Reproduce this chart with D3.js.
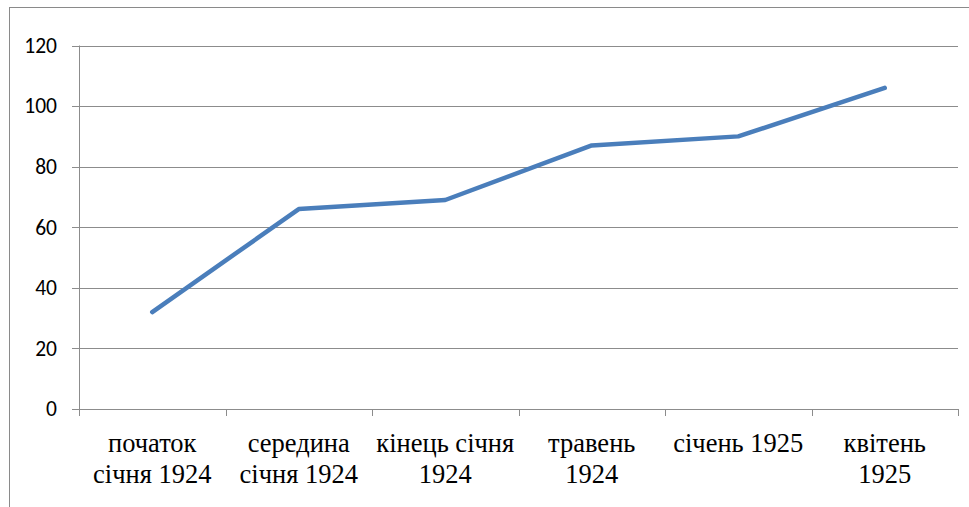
<!DOCTYPE html>
<html>
<head>
<meta charset="utf-8">
<script src="https://cdn.jsdelivr.net/npm/d3@7"></script>
<style>
  body { margin: 0; background: #fff; }
  svg { display: block; }
</style>
</head>
<body>
<div id="chart"></div>
<script>
// categories (line breaks as in the original chart)
var categories = [
  ["початок", "січня 1924"],
  ["середина", "січня 1924"],
  ["кінець січня", "1924"],
  ["травень", "1924"],
  ["січень 1925"],
  ["квітень", "1925"]
];
var values = [32, 66, 69, 87, 90, 106];
var yTicks = [0, 20, 40, 60, 80, 100, 120];

var W = 969, H = 507;
var margin = {left: 79, right: 11, top: 45.5, bottom: 98};

var svg = d3.select("#chart").append("svg")
  .attr("width", W).attr("height", H);

// outer chart frame (cut off at right/bottom in the original)
svg.append("rect")
  .attr("x", 9.5).attr("y", 7.5)
  .attr("width", W + 20).attr("height", H + 20)
  .attr("fill", "none")
  .attr("stroke", "#8a8a8a")
  .attr("stroke-width", 1);

var x = d3.scaleBand()
  .domain(d3.range(categories.length))
  .range([margin.left, W - margin.right]);

var y = d3.scaleLinear()
  .domain([0, 120])
  .range([H - margin.bottom, margin.top]);

// gridlines + y axis
var yAxis = d3.axisLeft(y)
  .tickValues(yTicks)
  .tickSize(-(W - margin.right - margin.left))
  .tickSizeOuter(0)
  .tickPadding(22)
  .tickFormat(d3.format("d"));

var gy = svg.append("g")
  .attr("transform", "translate(" + margin.left + ",0)")
  .call(yAxis);
gy.select(".domain").remove();
gy.selectAll(".tick line")
  .attr("x1", -7)
  .attr("stroke", "#8c8c8c")
  .attr("shape-rendering", "crispEdges");
gy.selectAll(".tick text")
  .style("font-family", "Carlito, Lato, sans-serif")
  .style("font-size", "21.5px")
  .attr("fill", "#000");

// y axis line
svg.append("line")
  .attr("x1", margin.left + 0.5).attr("x2", margin.left + 0.5)
  .attr("y1", y(120)).attr("y2", y(0))
  .attr("stroke", "#8c8c8c");

// x axis line + ticks at band boundaries
svg.append("line")
  .attr("x1", margin.left).attr("x2", W - margin.right)
  .attr("y1", Math.round(y(0)) + 0.5).attr("y2", Math.round(y(0)) + 0.5)
  .attr("stroke", "#8c8c8c");

var bounds = d3.range(categories.length + 1).map(function(i) {
  return i < categories.length ? x(i) : x(i - 1) + x.bandwidth();
});
svg.selectAll(".xtick").data(bounds)
  .enter().append("line")
    .attr("class", "xtick")
    .attr("x1", function(d) { return Math.round(d) + 0.5; })
    .attr("x2", function(d) { return Math.round(d) + 0.5; })
    .attr("y1", y(0))
    .attr("y2", y(0) + 7)
    .attr("stroke", "#8c8c8c");

// category labels
var lbl = svg.selectAll(".xlabel").data(categories)
  .enter().append("text")
    .attr("class", "xlabel")
    .attr("text-anchor", "middle")
    .style("font-family", "'Liberation Serif', 'Times New Roman', serif")
    .style("font-size", "26.5px")
    .attr("fill", "#000");
lbl.each(function(d, i) {
  var t = d3.select(this);
  d.forEach(function(line, j) {
    t.append("tspan")
      .attr("x", x(i) + x.bandwidth() / 2)
      .attr("y", 452 + j * 31)
      .text(line);
  });
});

// series line
var line = d3.line()
  .x(function(d, i) { return x(i) + x.bandwidth() / 2; })
  .y(function(d) { return y(d); });

svg.append("path")
  .datum(values)
  .attr("d", line)
  .attr("fill", "none")
  .attr("stroke", "#4a7ebb")
  .attr("stroke-width", 4.5)
  .attr("stroke-linecap", "round")
  .attr("stroke-linejoin", "round");
</script>
</body>
</html>
